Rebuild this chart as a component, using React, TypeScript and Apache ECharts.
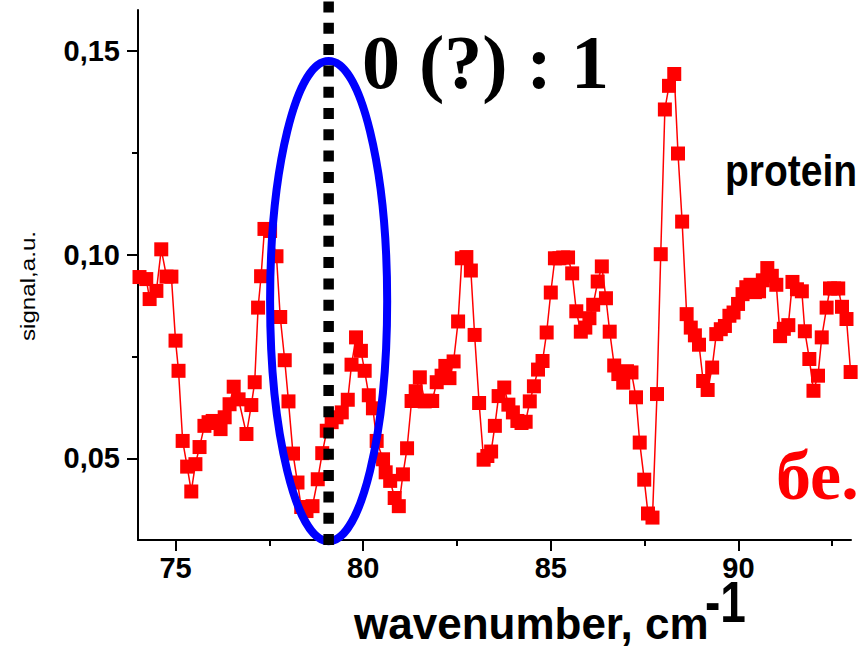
import React, { useEffect, useRef } from "react";
import * as echarts from "echarts";

// wavenumber, cm^-1
const wavenumber = [
  74.04, 74.22, 74.31, 74.49, 74.62, 74.76, 74.89, 75.0, 75.08, 75.19,
  75.31, 75.42, 75.53, 75.64, 75.77, 75.88, 75.99, 76.11, 76.2, 76.31,
  76.44, 76.55, 76.68, 76.89, 77.02, 77.11, 77.2, 77.28, 77.37, 77.52,
  77.69, 77.79, 77.91, 78.01, 78.13, 78.25, 78.35, 78.49, 78.65, 78.79,
  78.91, 79.03, 79.16, 79.29, 79.43, 79.59, 79.69, 79.81, 79.94, 80.04,
  80.15, 80.26, 80.36, 80.53, 80.6, 80.72, 80.84, 80.95, 81.06, 81.17,
  81.29, 81.4, 81.51, 81.64, 81.74, 81.84, 81.96, 82.09, 82.19, 82.3,
  82.41, 82.53, 82.63, 82.75, 82.87, 82.97, 83.09, 83.21, 83.31, 83.41,
  83.51, 83.61, 83.76, 83.87, 83.99, 84.11, 84.22, 84.33, 84.44, 84.55,
  84.66, 84.78, 84.89, 85.0, 85.11, 85.23, 85.33, 85.46, 85.57, 85.68,
  85.8, 85.92, 86.03, 86.13, 86.25, 86.36, 86.47, 86.57, 86.69, 86.8,
  86.93, 87.03, 87.15, 87.27, 87.37, 87.49, 87.59, 87.71, 87.83, 87.93,
  88.04, 88.15, 88.29, 88.39, 88.5, 88.62, 88.73, 88.84, 88.95, 89.06,
  89.18, 89.3, 89.41, 89.53, 89.64, 89.76, 89.87, 89.99, 90.11, 90.21,
  90.32, 90.44, 90.55, 90.65, 90.77, 90.89, 91.01, 91.11, 91.21, 91.33,
  91.44, 91.56, 91.69, 91.77, 91.89, 92.0, 92.12, 92.22, 92.35, 92.44,
  92.55, 92.66, 92.76, 92.88, 92.99,
];

// signal, a.u.
const signal = [
  0.0945, 0.094, 0.0891, 0.0911, 0.1013, 0.0946, 0.0946, 0.0789, 0.0715, 0.0543,
  0.048, 0.0419, 0.0486, 0.0528, 0.058, 0.0589, 0.0592, 0.0587, 0.0572, 0.0601,
  0.0633, 0.0676, 0.0645, 0.056, 0.0631, 0.0687, 0.087, 0.0947, 0.1063, 0.1058,
  0.0996, 0.0847, 0.0741, 0.064, 0.0512, 0.0441, 0.0381, 0.0371, 0.0383, 0.0449,
  0.0513, 0.0568, 0.0589, 0.0601, 0.0613, 0.0644, 0.073, 0.0797, 0.0764, 0.0715,
  0.0655, 0.0623, 0.0543, 0.0498, 0.0466, 0.0445, 0.0403, 0.0383, 0.0461, 0.0525,
  0.0641, 0.0665, 0.0699, 0.064, 0.0642, 0.0641, 0.0687, 0.0703, 0.0727, 0.0697,
  0.0738, 0.0836, 0.0991, 0.0994, 0.0961, 0.0803, 0.0636, 0.0497, 0.0506, 0.0517,
  0.058, 0.0653, 0.0674, 0.0632, 0.0613, 0.0592, 0.0587, 0.059, 0.064, 0.0677,
  0.0718, 0.0739, 0.0809, 0.0907, 0.0991, 0.0991, 0.0993, 0.0993, 0.0954, 0.0861,
  0.0811, 0.0821, 0.0844, 0.0877, 0.0934, 0.0971, 0.0893, 0.0811, 0.0728, 0.0707,
  0.0686, 0.0714, 0.0711, 0.065, 0.0539, 0.0448, 0.0365, 0.0355, 0.0658, 0.1001,
  0.1356, 0.1414, 0.1443, 0.1248, 0.1081, 0.0854, 0.0821, 0.0802, 0.0779, 0.069,
  0.0668, 0.0723, 0.0805, 0.0817, 0.0825, 0.085, 0.0858, 0.0879, 0.0903, 0.092,
  0.0926, 0.0908, 0.091, 0.0937, 0.0967, 0.0948, 0.0926, 0.08, 0.0818, 0.0827,
  0.0933, 0.0915, 0.091, 0.0812, 0.0744, 0.0666, 0.0703, 0.0797, 0.087, 0.0917,
  0.0917, 0.0917, 0.0872, 0.0842, 0.0712,
];

const xRange = [74, 93];
const yRange = [0.03, 0.16];
const xMajorTicks = [75, 80, 85, 90];
const xMinorTicks = [77.5, 82.5, 87.5, 92.5];
const yMajorTicks = [0.05, 0.1, 0.15];
const yMinorTicks = [0.075, 0.125];

// annotation positions in data units
const markerWavenumber = 79.08;
const ellipseCenter = [79.08, 0.0886];
const ellipseRadii = [1.56, 0.0589];

const SANS = "'Liberation Sans', Arial, Helvetica, sans-serif";
const SERIF = "'Liberation Serif', 'Times New Roman', Times, serif";

export default function App() {
  const ref = useRef<HTMLDivElement>(null);

  useEffect(() => {
    if (!ref.current) return;
    const chart = echarts.init(ref.current, null, { renderer: "svg" });
    const points = wavenumber.map((x, i) => [x, signal[i]]);
    const lineCol = { color: "#000", width: 2 };
    const tickFont = {
      fontFamily: SANS,
      fontWeight: "bold" as const,
      fontSize: 29,
      color: "#000",
    };

    chart.setOption({
      animation: false,
      backgroundColor: "#fff",
      grid: { left: 138, right: 10, top: 10, bottom: 108, containLabel: false },
      xAxis: [
        {
          type: "value",
          min: xRange[0],
          max: xRange[1],
          position: "bottom",
          axisLine: { show: true, onZero: false, lineStyle: lineCol },
          axisTick: { show: true, customValues: xMajorTicks, length: 11, lineStyle: lineCol },
          axisLabel: { customValues: xMajorTicks, margin: 13, ...tickFont },
          splitLine: { show: false },
        },
        {
          type: "value",
          min: xRange[0],
          max: xRange[1],
          position: "bottom",
          offset: 0,
          axisLine: { show: false, onZero: false },
          axisTick: { show: true, customValues: xMinorTicks, length: 6, lineStyle: lineCol },
          axisLabel: { show: false },
          splitLine: { show: false },
        },
      ],
      yAxis: [
        {
          type: "value",
          min: yRange[0],
          max: yRange[1],
          position: "left",
          axisLine: { show: true, onZero: false, lineStyle: lineCol },
          axisTick: { show: true, customValues: yMajorTicks, length: 11, lineStyle: lineCol },
          axisLabel: {
            customValues: yMajorTicks,
            margin: 18,
            formatter: (v: number) => v.toFixed(2).replace(".", ","),
            ...tickFont,
          },
          splitLine: { show: false },
        },
        {
          type: "value",
          min: yRange[0],
          max: yRange[1],
          position: "left",
          offset: 0,
          axisLine: { show: false, onZero: false },
          axisTick: { show: true, customValues: yMinorTicks, length: 6, lineStyle: lineCol },
          axisLabel: { show: false },
          splitLine: { show: false },
        },
      ],
      series: [
        {
          type: "line",
          xAxisIndex: 0,
          yAxisIndex: 0,
          data: points,
          symbol: "rect",
          symbolSize: 14,
          showAllSymbol: true,
          itemStyle: { color: "#ff0000" },
          lineStyle: { color: "#ff0000", width: 1.5 },
          clip: true,
          z: 2,
        },
      ],
    });

    const toPx = (p: number[]) => chart.convertToPixel({ seriesIndex: 0 }, p) as number[];
    const [cx, cy] = toPx(ellipseCenter);
    const [ex] = toPx([ellipseCenter[0] + ellipseRadii[0], ellipseCenter[1]]);
    const [, ey] = toPx([ellipseCenter[0], ellipseCenter[1] + ellipseRadii[1]]);
    const [lx] = toPx([markerWavenumber, yRange[0]]);

    chart.setOption({
      graphic: [
        {
          type: "ellipse",
          z: 100,
          shape: { cx, cy, rx: ex - cx, ry: cy - ey },
          style: { fill: "none", stroke: "#0000ff", lineWidth: 8 },
        },
        {
          type: "line",
          z: 101,
          shape: { x1: lx, y1: 1.5, x2: lx, y2: 545 },
          style: { stroke: "#000", lineWidth: 10.5, lineDash: [11, 10.3] },
        },
        {
          type: "text",
          z: 110,
          x: 362,
          y: 62,
          style: {
            text: "0 (?) : 1",
            fontFamily: SERIF,
            fontWeight: "bold",
            fontSize: 76,
            fill: "#000",
            align: "left",
            verticalAlign: "middle",
          },
        },
        {
          type: "text",
          z: 110,
          x: 725,
          y: 171,
          scaleY: 1.15,
          style: {
            text: "protein",
            fontFamily: SANS,
            fontWeight: "bold",
            fontSize: 39,
            fill: "#000",
            align: "left",
            verticalAlign: "middle",
          },
        },
        {
          type: "text",
          z: 110,
          x: 776,
          y: 475,
          style: {
            text: "бе.",
            fontFamily: SERIF,
            fontWeight: "bold",
            fontSize: 70,
            fill: "#ff0000",
            align: "left",
            verticalAlign: "middle",
          },
        },
        {
          type: "text",
          z: 110,
          x: 28,
          y: 286,
          rotation: Math.PI / 2,
          scaleX: 1.15,
          style: {
            text: "signal,a.u.",
            fontFamily: SANS,
            fontWeight: "normal",
            fontSize: 21,
            fill: "#000",
            align: "center",
            verticalAlign: "middle",
          },
        },
        {
          type: "text",
          z: 110,
          x: 354,
          y: 623,
          style: {
            text: "wavenumber, cm",
            fontFamily: SANS,
            fontWeight: "bold",
            fontSize: 44,
            fill: "#000",
            align: "left",
            verticalAlign: "middle",
          },
        },
        {
          type: "text",
          z: 110,
          x: 705,
          y: 602,
          scaleY: 1.25,
          style: {
            text: "-1",
            fontFamily: SANS,
            fontWeight: "bold",
            fontSize: 46,
            fill: "#000",
            align: "left",
            verticalAlign: "middle",
          },
        },
      ],
    });

    return () => chart.dispose();
  }, []);

  return (
    <div
      ref={ref}
      style={{ position: "absolute", left: 0, top: 0, width: 861, height: 648, background: "#fff" }}
    />
  );
}
